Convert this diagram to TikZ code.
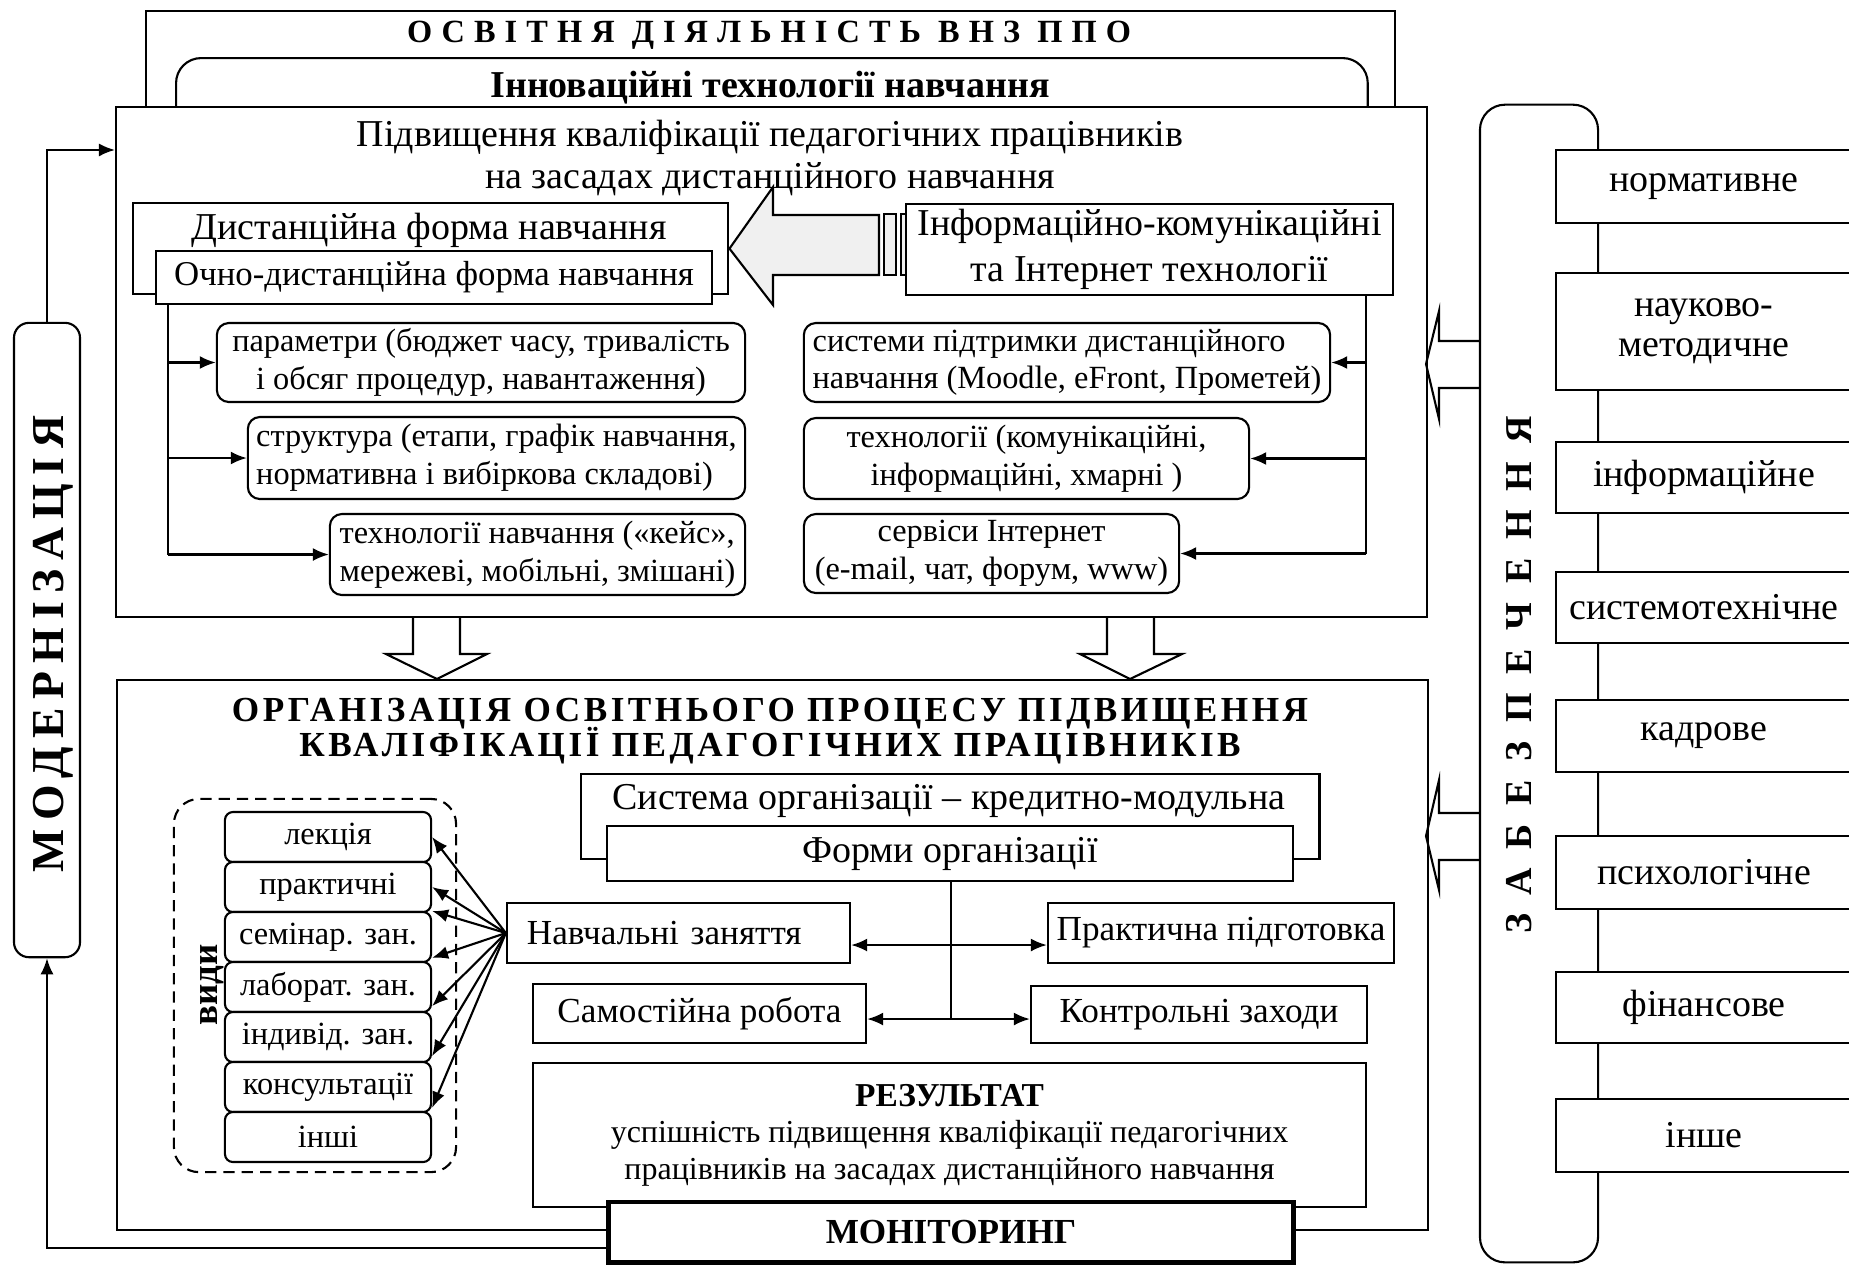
\documentclass[tikz,border=0pt]{standalone}
\usepackage{fontspec}
\setmainfont{Liberation Serif}
\usetikzlibrary{arrows.meta}

\begin{document}
\begin{tikzpicture}[x=0.01cm, y=-0.01cm, line width=0.6pt,
		frame/.style={draw, fill=white, inner sep=0pt},
		big/.style={font=\fontsize{10.8}{12.2}\selectfont},
		mid/.style={font=\fontsize{10}{12}\selectfont},
		small/.style={font=\fontsize{9.2}{10.7}\selectfont},
		pill/.style={frame, rounded corners=1.2mm, small, align=center},
		spaced/.style 2 args={font=\bfseries\fontsize{#1}{#1}\selectfont\addfontfeature{LetterSpace=#2}},
		arr/.style={-{Latex[length=1.6mm, width=1.3mm]}}]

		\useasboundingbox (0,0) rectangle (1849,1265);

		% upper frames
		\node[frame, anchor=north west, minimum width=12.48cm, minimum height=1.2cm] (osvita) at (145,10) {};
		\node[spaced={9.2}{28}] (osvitaT) at (769,35) {ОСВІТНЯ ДІЯЛЬНІСТЬ ВНЗ ППО};
		\node[frame, rounded corners=2.5mm, anchor=north west, minimum width=11.91cm, minimum height=0.8cm] (innov) at (175,57) {};
		\node[font=\bfseries\fontsize{10.8}{12}\selectfont] (innovT) at (770,88) {Інноваційні технології навчання};

		\node[frame, anchor=north west, minimum width=13.10cm, minimum height=5.10cm] (main) at (115,106) {};
		\node[big, align=center] (mainT) at (770,158) {Підвищення кваліфікації педагогічних працівників\\на засадах дистанційного навчання};

		% forms of learning
		\node[frame, anchor=north west, minimum width=5.95cm, minimum height=0.91cm] (dfn) at (132,202) {};
		\node[big] (dfnT) at (429,230) {Дистанційна форма навчання};
		\node[frame, font=\fontsize{9.9}{12}\selectfont, minimum width=5.56cm, minimum height=0.53cm] (odfn) at (434,277.5) {Очно-дистанційна форма навчання};

		\draw[fill=gray!12] (dfn.east) -- (773,187) -- (773,215) -- (879,215) -- (879,275) -- (773,275) -- (773,305) -- cycle;
		\draw[fill=gray!12] (884,214) rectangle (896,275);
		\draw[fill=gray!12] (901,214) rectangle (907,275);
		\node[frame, align=center, font=\fontsize{10.8}{13}\selectfont, minimum width=4.87cm, minimum height=0.91cm] (ikt) at (1149.5,249.5) {Інформаційно-комунікаційні\\та Інтернет технології};

		% left column
		\node[pill, minimum width=5.28cm, minimum height=0.79cm] (param) at (481,362.5) {параметри (бюджет часу, тривалість\\і обсяг процедур, навантаження)};
		\node[pill, align=left, minimum width=4.97cm, minimum height=0.82cm] (struct) at (496.5,458) {структура (етапи, графік навчання,\\нормативна і вибіркова складові)};
		\node[pill, align=left, minimum width=4.15cm, minimum height=0.81cm] (techn) at (537.5,554.5) {технології навчання («кейс»,\\мережеві, мобільні, змішані)};
		\coordinate (lbus) at (168,304);
		\draw (lbus) -- (lbus |- techn.west);
		\foreach \b in {param, struct, techn}
			\draw[arr] (lbus |- \b.west) -- (\b.west);

		% right column
		\node[pill, align=left, minimum width=5.26cm, minimum height=0.79cm] (sys) at (1067,362.5) {системи підтримки дистанційного\\навчання (Moodle, eFront, Прометей)};
		\node[pill, minimum width=4.45cm, minimum height=0.81cm] (tech2) at (1026.5,458.5) {технології (комунікаційні,\\інформаційні, хмарні )};
		\node[pill, minimum width=3.75cm, minimum height=0.79cm] (serv) at (991.5,553.5) {сервіси Інтернет\\(e-mail, чат, форум, www)};
		\coordinate (rbus) at (1366,295);
		\draw (rbus) -- (rbus |- serv.east);
		\foreach \b in {sys, tech2, serv}
			\draw[arr] (rbus |- \b.east) -- (\b.east);

		% down arrows
		\draw (413,616) -- (413,654) -- (386,654) -- (437,679) -- (487,654) -- (460,654) -- (460,616);
		\draw (1107,616) -- (1107,654) -- (1080,654) -- (1130,679) -- (1182,654) -- (1154,654) -- (1154,616);

		% organisation
		\node[frame, anchor=north west, minimum width=13.10cm, minimum height=5.50cm] (org) at (116,679) {};
		\node[spaced={10}{10}, align=center] (orgT) at (770,731) {ОРГАНІЗАЦІЯ ОСВІТНЬОГО ПРОЦЕСУ ПІДВИЩЕННЯ\\[-1.3pt]КВАЛІФІКАЦІЇ ПЕДАГОГІЧНИХ ПРАЦІВНИКІВ};

		\node[frame, anchor=north west, minimum width=7.38cm, minimum height=0.85cm] (sysorg) at (580,773) {};
		\node[big] (sysorgT) at (949,801) {Система організації – кредитно-модульна};
		\node[frame, big, minimum width=6.86cm, minimum height=0.55cm] (formy) at (950,853.5) {Форми організації};

		\node[frame, mid, align=left, text width=3.03cm, inner xsep=0.2cm, minimum height=0.60cm] (navch) at (678.5,933) {Навчальні заняття};
		\node[frame, mid, minimum width=3.46cm, minimum height=0.60cm] (prakt) at (1221,933) {Практична підготовка};
		\node[frame, mid, minimum width=3.33cm, minimum height=0.59cm] (samost) at (699.5,1013.5) {Самостійна робота};
		\node[frame, mid, minimum width=3.36cm, minimum height=0.57cm] (kontr) at (1199,1014.5) {Контрольні заходи};

		\coordinate (fj1) at (951,945);
		\coordinate (fj2) at (951,1019);
		\draw (formy.south -| fj1) -- (fj2);
		\draw[arr] (fj1) -- (fj1 -| navch.east);
		\draw[arr] (fj1) -- (fj1 -| prakt.west);
		\draw[arr] (fj2) -- (fj2 -| samost.east);
		\draw[arr] (fj2) -- (fj2 -| kontr.west);

		\node[frame, align=center, font=\fontsize{9.1}{10.4}\selectfont, minimum width=8.33cm, minimum height=1.44cm] (rez) at (949.5,1135) {{\bfseries\fontsize{9.5}{10.4}\selectfont РЕЗУЛЬТАТ}\\успішність підвищення кваліфікації педагогічних\\працівників на засадах дистанційного навчання};
		\node[frame, line width=1.4pt, font=\bfseries\fontsize{10}{12}\selectfont, minimum width=6.84cm, minimum height=0.60cm] (monit) at (951,1232) {МОНІТОРИНГ};

		% kinds of classes
		\node[draw, dashed, dash pattern=on 3.2pt off 2pt, rounded corners=2.5mm, minimum width=2.82cm, minimum height=3.73cm] (vydy) at (315,985.5) {};
		\foreach \t [count=\i] in {лекція, практичні, семінар. зан., лаборат. зан., індивід. зан., консультації, інші}
			\node[frame, rounded corners=0.8mm, small, minimum width=2.06cm, minimum height=0.50cm] (v\i) at (328,787+50*\i) {\t};
		\node[font=\bfseries\fontsize{10.5}{12}\selectfont, rotate=90] (vydyT) at (212,985) {види};

		\draw[arr] (navch.west) -- (v1.east);
		\draw[arr] (navch.west) -- (v2.east);
		\draw[arr] (navch.west) -- (v3.north east);
		\draw[arr] (navch.west) -- ([yshift=1.5pt]v3.south east);
		\draw[arr] (navch.west) -- ([yshift=2pt]v4.south east);
		\draw[arr] (navch.west) -- ([yshift=2pt]v5.south east);
		\draw[arr] (navch.west) -- ([yshift=1.5pt]v6.south east);

		% modernisation loop
		\node[frame, rounded corners=1.5mm, minimum width=0.66cm, minimum height=6.34cm] (modern) at (47,640) {};
		\node[spaced={13}{18.5}, rotate=90] (modernT) at (53,644) {МОДЕРНІЗАЦІЯ};
		\draw[arr] ([yshift=-4.5pt]monit.west) -| (modern.south);
		\draw[arr] (modern.north) |- ([yshift=-12.5pt]main.north west);

		% support column
		\node[frame, rounded corners=2.5mm, minimum width=1.18cm, minimum height=11.57cm] (zabez) at (1539,683.5) {};
		\node[spaced={10.8}{49}, rotate=90] (zabezT) at (1519,675) {ЗАБЕЗПЕЧЕННЯ};
		\foreach \t/\c/\h [count=\i] in {нормативне/186.5/0.73cm, {науково-\\методичне}/331.5/1.17cm, інформаційне/477.5/0.71cm, системотехнічне/607.5/0.71cm, кадрове/736/0.72cm, психологічне/872.5/0.73cm, фінансове/1007.5/0.71cm, інше/1135.5/0.73cm}
			\node[frame, align=center, font=\fontsize{10.8}{11.4}\selectfont, minimum width=2.96cm, minimum height=\h] (z\i) at (1704,\c) {\t};

		\draw (1480,341) -- (1439,341) -- (1439,311) -- (1426,364) -- (1439,419) -- (1439,388) -- (1480,388);
		\draw (1480,813) -- (1439,813) -- (1439,780) -- (1426,836) -- (1439,890) -- (1439,860) -- (1480,860);

	\end{tikzpicture}
\end{document}
